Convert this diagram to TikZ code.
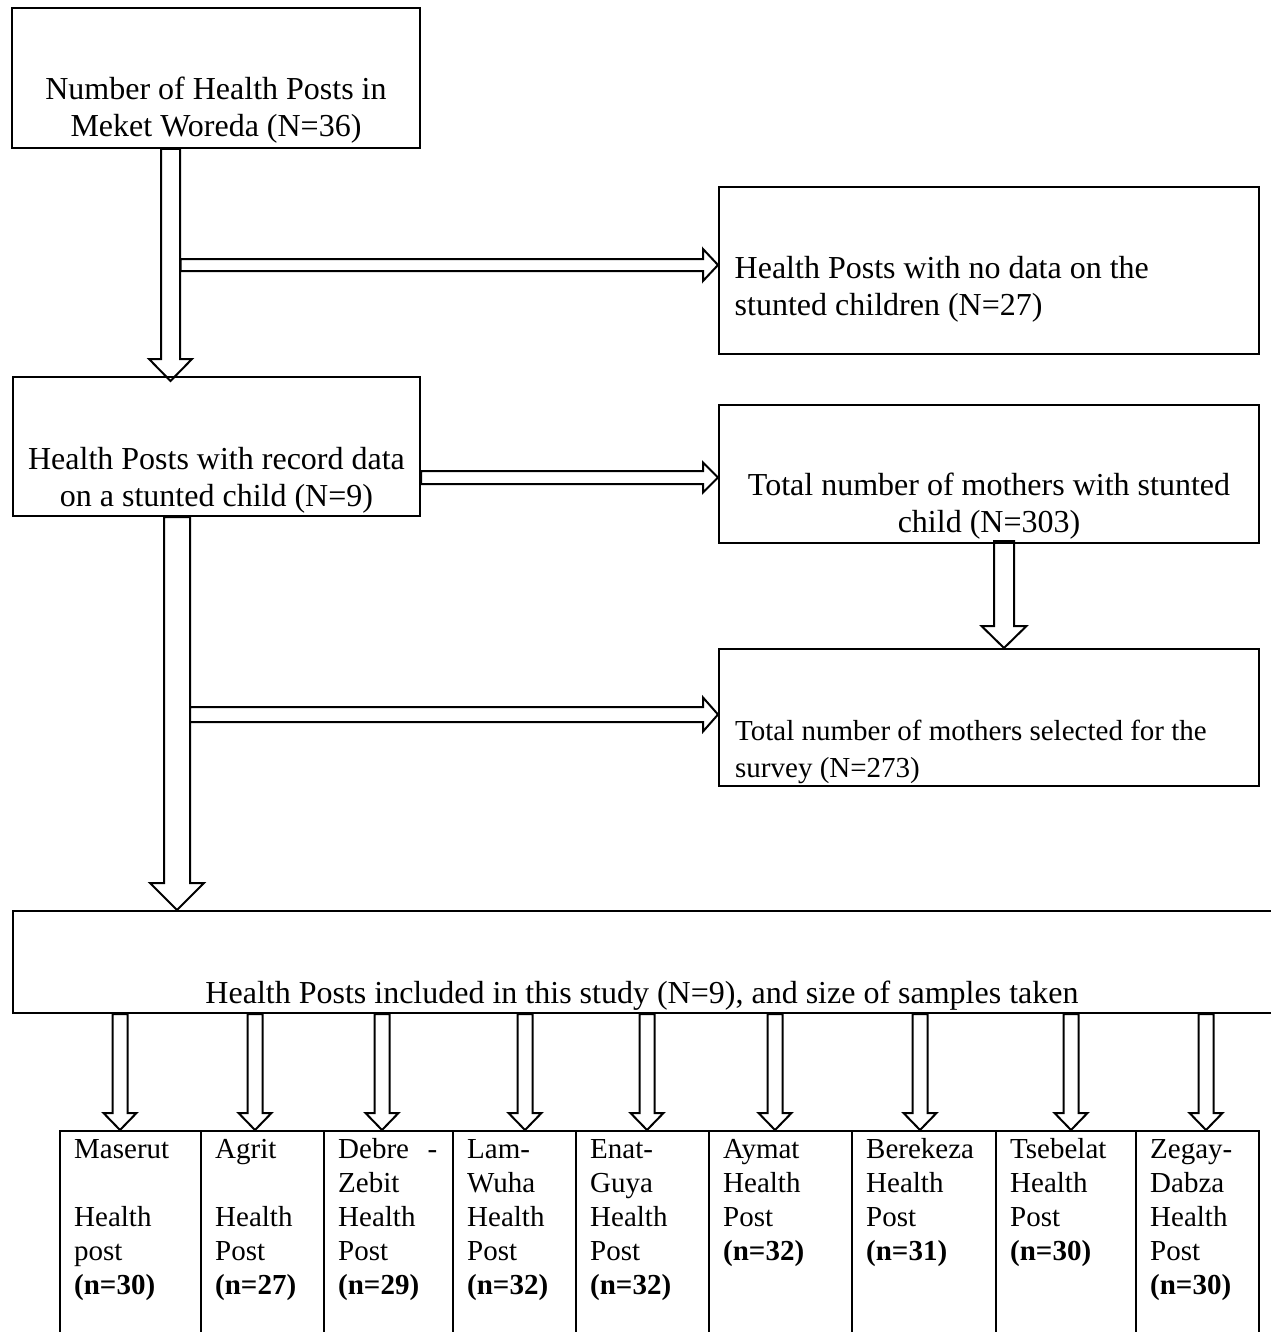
\documentclass[tikz,border=0pt]{standalone}
\usepackage{fontspec}
\setmainfont{Liberation Serif}
\usetikzlibrary{calc,backgrounds}
\tikzset{
  box/.style={draw, line width=2pt, inner sep=0pt, anchor=north west},
  blk/.style={draw, fill=white, line width=2pt, line join=miter},
  txt/.style={inner sep=0pt, font=\fontsize{32}{37}\selectfont},
  stxt/.style={inner sep=0pt, font=\fontsize{29}{37}\selectfont},
  ctxt/.style={inner sep=0pt, anchor=base west, font=\fontsize{29}{34}\selectfont},
}
% vertical (downward) block arrow: start, tip, shaft half width, head half width, head length
\newcommand\varrow[5]{%
  \draw[blk] let \p1=(#1), \p2=(#2) in
    (\x1-#3,\y1) -- (\x1-#3,\y2+#5) -- (\x1-#4,\y2+#5) -- (\x1,\y2)
    -- (\x1+#4,\y2+#5) -- (\x1+#3,\y2+#5) -- (\x1+#3,\y1) -- cycle;}
% horizontal (rightward) block arrow: start, tip, shaft half width, head half width, head length
\newcommand\harrow[5]{%
  \draw[blk] let \p1=(#1), \p2=(#2) in
    (\x1,\y2+#3) -- (\x2-#5,\y2+#3) -- (\x2-#5,\y2+#4) -- (\x2,\y2)
    -- (\x2-#5,\y2-#4) -- (\x2-#5,\y2-#3) -- (\x1,\y2-#3) -- cycle;}
\begin{document}
\begin{tikzpicture}[x=1pt,y=-1pt]
\useasboundingbox (0,0) rectangle (1270,1332);

% boxes
\node[box, minimum width=408pt, minimum height=140pt] (b1) at (11,7) {};
\node[box, minimum width=407pt, minimum height=139pt] (b2) at (12,376) {};
\node[box, minimum width=540pt, minimum height=167pt] (b3) at (718,186) {};
\node[box, minimum width=540pt, minimum height=138pt] (b4) at (718,404) {};
\node[box, minimum width=540pt, minimum height=137pt] (b5) at (718,648) {};
\node[box, minimum width=1300pt, minimum height=102pt] (b6) at (12,910) {};

% bottom cells
\node[box, minimum width=141pt, minimum height=215pt] (c1) at (59,1130) {};
\node[box, minimum width=123pt, minimum height=215pt] (c2) at (200,1130) {};
\node[box, minimum width=129pt, minimum height=215pt] (c3) at (323,1130) {};
\node[box, minimum width=123pt, minimum height=215pt] (c4) at (452,1130) {};
\node[box, minimum width=133pt, minimum height=215pt] (c5) at (575,1130) {};
\node[box, minimum width=143pt, minimum height=215pt] (c6) at (708,1130) {};
\node[box, minimum width=144pt, minimum height=215pt] (c7) at (851,1130) {};
\node[box, minimum width=140pt, minimum height=215pt] (c8) at (995,1130) {};
\node[box, minimum width=123pt, minimum height=215pt] (c9) at (1135,1130) {};

% box texts
\node[txt, anchor=base] (b1t) at ($(b1.north)+(0,93)$)
  {\parbox[t]{400pt}{\centering Number of Health Posts in\\Meket Woreda (N=36)}};
\node[txt, anchor=base] (b2t) at ($(b2.north)+(0,93)$)
  {\parbox[t]{400pt}{\centering Health Posts with record data\\on a stunted child (N=9)}};
\node[txt, anchor=base west] (b3t) at ($(b3.north west)+(16.5,92)$)
  {\parbox[t]{520pt}{\raggedright Health Posts with no data on the\\stunted children (N=27)}};
\node[txt, anchor=base] (b4t) at ($(b4.north)+(0,91)$)
  {\parbox[t]{530pt}{\centering Total number of mothers with stunted\\child (N=303)}};
\node[stxt, anchor=base west] (b5t) at ($(b5.north west)+(17,92)$)
  {\parbox[t]{520pt}{\raggedright Total number of mothers selected for the\\survey (N=273)}};
\node[txt, anchor=base] (b6t) at ($(b6.north)+(-21,93)$)
  {Health Posts included in this study (N=9), and size of samples taken};

% cell texts
\node[ctxt] (c1t) at ($(c1.north west)+(15,28)$)
  {\parbox[t]{111pt}{\raggedright Maserut\\\mbox{}\\Health\\post\\\textbf{(n=30)}}};
\node[ctxt] (c2t) at ($(c2.north west)+(15,28)$)
  {\parbox[t]{93pt}{\raggedright Agrit\\\mbox{}\\Health\\Post\\\textbf{(n=27)}}};
\node[ctxt] (c3t) at ($(c3.north west)+(15,28)$)
  {\parbox[t]{99pt}{\raggedright Debre\hfill-\\Zebit\\Health\\Post\\\textbf{(n=29)}}};
\node[ctxt] (c4t) at ($(c4.north west)+(15,28)$)
  {\parbox[t]{93pt}{\raggedright Lam-\\Wuha\\Health\\Post\\\textbf{(n=32)}}};
\node[ctxt] (c5t) at ($(c5.north west)+(15,28)$)
  {\parbox[t]{103pt}{\raggedright Enat-\\Guya\\Health\\Post\\\textbf{(n=32)}}};
\node[ctxt] (c6t) at ($(c6.north west)+(15,28)$)
  {\parbox[t]{113pt}{\raggedright Aymat\\Health\\Post\\\textbf{(n=32)}}};
\node[ctxt] (c7t) at ($(c7.north west)+(15,28)$)
  {\parbox[t]{114pt}{\raggedright Berekeza\\Health\\Post\\\textbf{(n=31)}}};
\node[ctxt] (c8t) at ($(c8.north west)+(15,28)$)
  {\parbox[t]{110pt}{\raggedright Tsebelat\\Health\\Post\\\textbf{(n=30)}}};
\node[ctxt] (c9t) at ($(c9.north west)+(15,28)$)
  {\parbox[t]{93pt}{\raggedright Zegay-\\Dabza\\Health\\Post\\\textbf{(n=30)}}};

% connectors (block arrows)
\begin{scope}[on background layer]
  \coordinate (v1s) at ([xshift=-45.5pt]b1.south);
  \coordinate (v1e) at ($(b2.north)+(0,5)$);
  \varrow{v1s}{v1e}{9.5pt}{21.5pt}{22pt}
  \coordinate (h1s) at ($(v1s)+(10,0)$);
  \coordinate (h1e) at ([yshift=5.5pt]b3.west);
  \harrow{h1s}{h1e}{6pt}{16pt}{15pt}

  \coordinate (v2s) at ([xshift=-39.5pt]b2.south);
  \varrow{v2s}{b6.north}{13pt}{27pt}{27pt}
  \coordinate (h2e) at ([yshift=-3.5pt]b4.west);
  \harrow{b2.east}{h2e}{6.5pt}{15pt}{15pt}
  \coordinate (h3s) at ($(v2s)+(13,0)$);
  \coordinate (h3e) at ([yshift=3pt]b5.west);
  \harrow{h3s}{h3e}{7.5pt}{17pt}{15pt}

  \coordinate (v3s) at ([xshift=15pt,yshift=3pt]b4.south);
  \varrow{v3s}{b5.north}{10pt}{22.5pt}{22pt}

  \foreach \k/\o in {1/-10.5,2/-7.5,3/-6.5,4/10.5,5/4.5,6/-5.5,7/-4,8/5,9/8.5}{
    \coordinate (s\k) at ([xshift=\o pt]c\k.north);
    \varrow{s\k |- b6.south}{s\k}{7.5pt}{16.5pt}{17pt}
  }
\end{scope}
\end{tikzpicture}
\end{document}
